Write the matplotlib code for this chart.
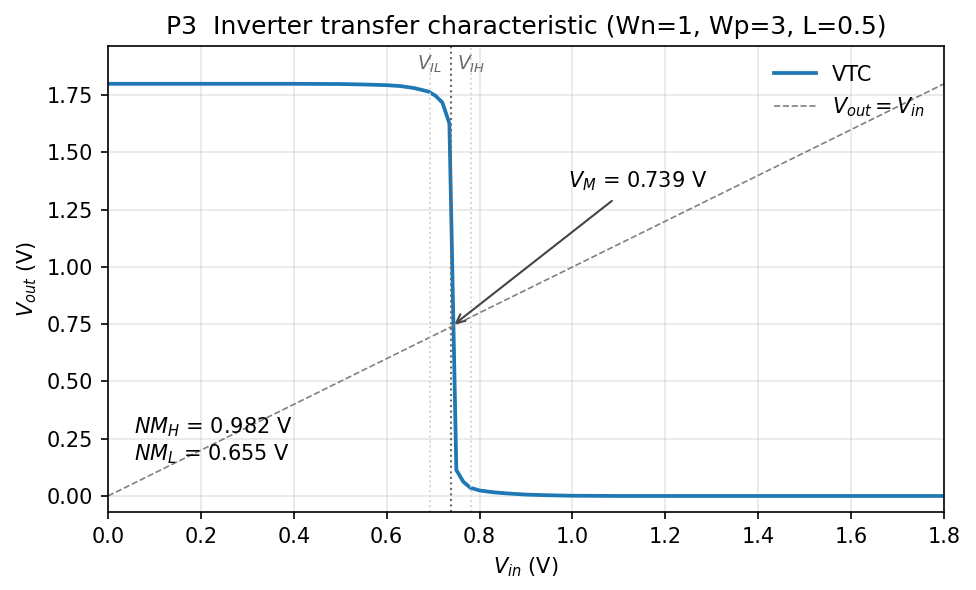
import matplotlib
matplotlib.use("Agg")
import matplotlib.pyplot as plt

# VTC
vin = [0.0, 0.1, 0.2, 0.3, 0.4, 0.5, 0.55, 0.6, 0.63, 0.66, 0.69, 0.705,
       0.72, 0.735, 0.75, 0.765, 0.78, 0.8, 0.83, 0.86, 0.9, 0.95, 1.0,
       1.1, 1.2, 1.4, 1.6, 1.8]
vout = [1.8, 1.8, 1.8, 1.8, 1.8, 1.799, 1.797, 1.794, 1.790, 1.781, 1.766,
        1.748, 1.718, 1.627, 0.113, 0.062, 0.036, 0.024, 0.016, 0.011,
        0.006, 0.003, 0.001, 0.0, 0.0, 0.0, 0.0, 0.0]

vdd = 1.8
vil = 0.693
vih = 0.781
vm = 0.739
nmh = 0.982
nml = 0.655

fig, ax = plt.subplots(figsize=(976/150, 590/150), dpi=150)
fig.subplots_adjust(left=0.1107, right=0.9672, top=0.922, bottom=0.1322)

ax.plot(vin, vout, color="#1f77b4", lw=1.8, label="VTC")
ax.plot([0, vdd], [0, vdd], "--", color="gray", lw=0.8, label="$V_{out} = V_{in}$")

ax.axvline(vil, color="lightgray", ls=":", lw=0.9)
ax.axvline(vih, color="lightgray", ls=":", lw=0.9)
ax.axvline(vm, color="dimgray", ls=":", lw=1.0)
ax.text(vil, 1.885, "$V_{IL}$", ha="center", va="center", fontsize=9, color="dimgray")
ax.text(vih, 1.885, "$V_{IH}$", ha="center", va="center", fontsize=9, color="dimgray")

ax.annotate("", xy=(vm, vm), xytext=(1.092, 1.30),
            arrowprops=dict(arrowstyle="->", color="#444444", lw=1))
ax.text(0.99, 1.325, "$V_M$ = %.3f V" % vm, ha="left", va="bottom", fontsize=10)

ax.text(0.055, 0.24, "$NM_H$ = %.3f V\n$NM_L$ = %.3f V" % (nmh, nml),
        ha="left", va="center", fontsize=10)

ax.set_xlim(0, vdd)
ax.set_ylim(-0.07, 1.965)
ax.set_xticks([0, 0.2, 0.4, 0.6, 0.8, 1.0, 1.2, 1.4, 1.6, 1.8])
ax.grid(True, alpha=0.3)
ax.set_xlabel("$V_{in}$ (V)")
ax.set_ylabel("$V_{out}$ (V)")
ax.set_title("P3  Inverter transfer characteristic (Wn=1, Wp=3, L=0.5)")
ax.legend(loc="upper right", frameon=False)

fig.savefig("out.png", dpi=150)
